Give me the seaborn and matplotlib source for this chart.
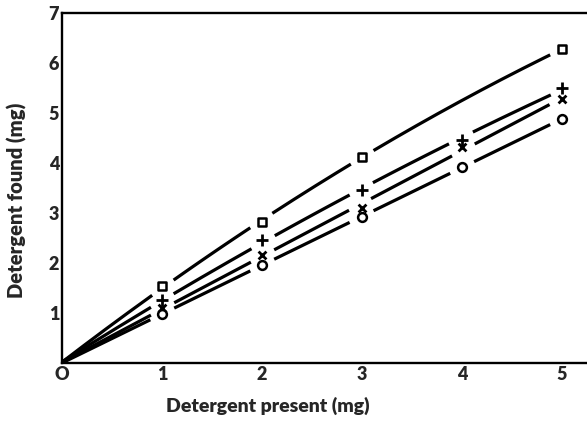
import numpy as np
import pandas as pd
import matplotlib
matplotlib.use("Agg")
import matplotlib.pyplot as plt
import seaborn as sns

# Data
x_vals = [0, 1, 2, 3, 4, 5]
square_x = [0, 1, 2, 3, 5]
square_y = [0, 1.54, 2.82, 4.12, 6.28]
plus_y = [0, 1.26, 2.46, 3.46, 4.46, 5.50]
cross_y = [0, 1.10, 2.16, 3.10, 4.32, 5.28]
circle_y = [0, 0.98, 1.96, 2.92, 3.92, 4.88]

x_ticks = [0, 1, 2, 3, 4, 5]
x_tick_labels = ["O", "1", "2", "3", "4", "5"]
y_ticks = [1, 2, 3, 4, 5, 6, 7]
y_tick_labels = ["1", "2", "3", "4", "5", "6", "7"]

sns.set_style("white")
plt.rcParams["font.family"] = ["Lato", "DejaVu Sans"]

W, H = 587, 425
fig = plt.figure(figsize=(W / 100, H / 100), dpi=100)
ax = fig.add_axes([62 / W, 62 / H, 525 / W, 350 / H])
px_x, px_y = 100.0, 50.0  # pixels per data unit (for gap sizes only)

series = [
    ("square", square_x, square_y),
    ("plus", x_vals, plus_y),
    ("cross", x_vals, cross_y),
    ("circle", x_vals, circle_y),
]

gap_px = 13
for name, xs, ys in series:
    coef = np.polyfit(xs, ys, 2)
    xx = np.linspace(0, 4.9, 800)
    yy = np.polyval(coef, xx)
    keep = np.ones_like(xx, dtype=bool)
    for mx, my in zip(xs[1:], ys[1:]):
        d = np.hypot((xx - mx) * px_x, (yy - my) * px_y)
        keep &= d > gap_px
    seg = np.cumsum(np.r_[0, np.diff(keep.astype(int)) != 0])
    df = pd.DataFrame({"x": xx, "y": yy, "seg": seg})[keep]
    sns.lineplot(data=df, x="x", y="y", units="seg", estimator=None, ax=ax,
                 color="black", lw=2.3, zorder=2, sort=False,
                 solid_capstyle="butt")
    pts = pd.DataFrame({"x": xs[1:], "y": ys[1:]})
    if name == "plus":
        sns.scatterplot(data=pts, x="x", y="y", ax=ax, marker="+", s=75,
                        color="black", linewidth=2.0, zorder=4)
    elif name == "cross":
        sns.scatterplot(data=pts, x="x", y="y", ax=ax, marker="x", s=32,
                        color="black", linewidth=2.0, zorder=4)
    elif name == "square":
        sns.scatterplot(data=pts, x="x", y="y", ax=ax, marker="s", s=36,
                        facecolor="white", edgecolor="black", linewidth=1.8, zorder=4)
    else:
        sns.scatterplot(data=pts, x="x", y="y", ax=ax, marker="o", s=40,
                        facecolor="white", edgecolor="black", linewidth=1.8, zorder=4)

ax.set_xlim(0, 5.25)
ax.set_ylim(0, 7)
ax.set_xticks(x_ticks)
ax.set_xticklabels(x_tick_labels, fontsize=13, fontweight="heavy")
ax.set_yticks(y_ticks)
ax.set_yticklabels(y_tick_labels, fontsize=13, fontweight="heavy")
ax.tick_params(axis="both", direction="in", length=6, width=1.4, color="black",
               pad=2)
for side in ["left", "bottom", "top"]:
    ax.spines[side].set_visible(True)
    ax.spines[side].set_color("black")
    ax.spines[side].set_linewidth(1.7)
ax.spines["right"].set_visible(False)

ax.set_xlabel("")
ax.set_ylabel("")
fig.text(268 / W, 1 - 406 / H, "Detergent present (mg)", ha="center", va="center",
         fontsize=14, fontweight="heavy")
fig.text(17 / W, 1 - 200 / H, "Detergent found (mg)", ha="center", va="center",
         rotation=90, fontsize=14.5, fontweight="heavy")

fig.savefig("out.png", dpi=100)
